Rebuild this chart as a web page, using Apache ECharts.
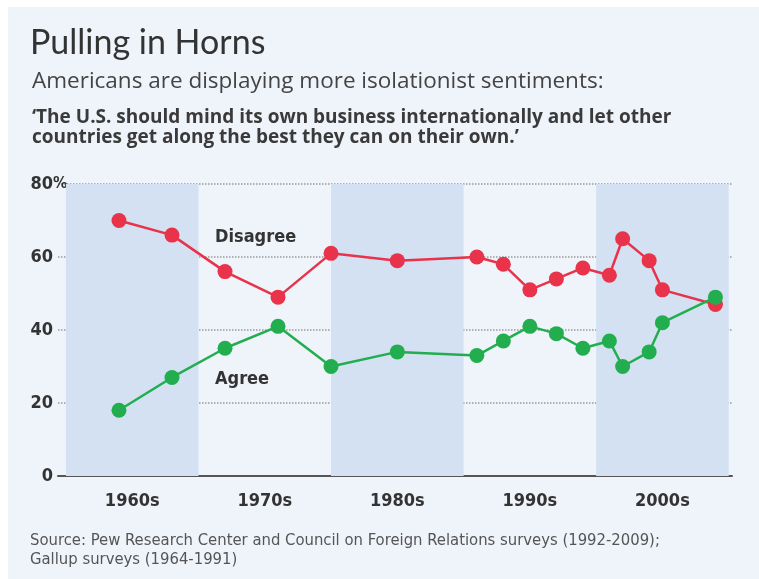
<!DOCTYPE html>
<html><head><meta charset="utf-8">
<script src="https://cdn.jsdelivr.net/npm/echarts@6/dist/echarts.min.js"></script>
<style>html,body{margin:0;padding:0;background:#fff}#c{width:759px;height:579px}</style>
</head><body><div id="c"></div>
<script>
const years = [1964,1968,1972,1976,1980,1985,1991,1993,1995,1997,1999,2001,2002,2004,2005,2009];
const disagree = [70,66,56,49,61,59,60,58,51,54,57,55,65,59,51,47];
const agree = [18,27,35,41,30,34,33,37,41,39,35,37,30,34,42,49];
const decadeTicks = [1965,1975,1985,1995,2005];
const decadeLabels = ['1960s','1970s','1980s','1990s','2000s'];
const shadedBands = [[1960,1970],[1980,1990],[2000,2010]];
const seriesNames = ['Disagree','Agree'];
const titleText = 'Pulling in Horns';
const subtitleText = 'Americans are displaying more isolationist sentiments:';
const quoteLines = ['\u2018The U.S. should mind its own business internationally and let other', 'countries get along the best they can on their own.\u2019'];
const sourceLines = ['Source: Pew Research Center and Council on Foreign Relations surveys (1992-2009);', 'Gallup surveys (1964-1991)'];

const RED = '#e8334a', GREEN = '#22ae4f';
const condensed = "'DejaVu Sans Condensed', 'Liberation Sans Narrow', sans-serif";
const chart = echarts.init(document.getElementById('c'), null, {renderer: 'canvas'});
const pair = (xs, ys) => xs.map((x, i) => [x, ys[i]]);

chart.setOption({
  backgroundColor: '#ffffff',
  animation: false,
  graphic: [
    {type: 'rect', z: -100, shape: {x: 8, y: 7, width: 751, height: 572}, style: {fill: '#eff3fa'}},
    {type: 'text', left: 30, top: 26, style: {text: titleText, font: '34px Lato', fill: '#333'}},
    {type: 'text', left: 32, top: 70, style: {text: subtitleText, font: "22.5px 'Open Sans'", fill: '#444'}},
    {type: 'text', left: 32, top: 108, style: {text: quoteLines.join('\n'), font: "bold 19px 'Open Sans'", lineHeight: 20, fill: '#3a3a3a'}},
    {type: 'text', left: 30, top: 531, style: {text: sourceLines.join('\n'), font: "16.5px 'Liberation Sans Narrow', 'DejaVu Sans Condensed', sans-serif", lineHeight: 19, fill: '#555'}},
    {type: 'text', left: 215, top: 228, style: {text: seriesNames[0], font: 'bold 18px ' + condensed, fill: '#333'}},
    {type: 'text', left: 215, top: 370, style: {text: seriesNames[1], font: 'bold 18px ' + condensed, fill: '#333'}}
  ],
  grid: {left: 58, right: 27, top: 184, bottom: 103, containLabel: false},
  xAxis: {
    type: 'value', min: 1959.4, max: 2010.25,
    axisLine: {show: true, lineStyle: {color: '#555', width: 2}},
    axisTick: {show: false},
    splitLine: {show: false},
    axisLabel: {
      customValues: decadeTicks,
      margin: 16,
      formatter: v => decadeLabels[decadeTicks.indexOf(v)] || '',
      color: '#333', fontSize: 18, fontWeight: 'bold', fontFamily: condensed
    }
  },
  yAxis: {
    type: 'value', min: 0, max: 80, interval: 20,
    axisLine: {show: false}, axisTick: {show: false},
    splitLine: {show: true, lineStyle: {color: '#9a9a9a', type: 'dotted', width: 1.5}},
    axisLabel: {
      margin: 5,
      formatter: v => v === 80 ? '{n|80}{p|%}' : '{n|' + v + '}',
      rich: {
        n: {align: 'left', color: '#333', fontSize: 18, fontWeight: 'bold', fontFamily: condensed},
        p: {align: 'left', width: 0, color: '#333', fontSize: 16, fontWeight: 'bold', fontFamily: condensed}
      }
    }
  },
  series: [
    {
      name: seriesNames[0], type: 'line', data: pair(years, disagree),
      symbol: 'circle', symbolSize: 15,
      lineStyle: {color: RED, width: 2.5}, itemStyle: {color: RED},
      markArea: {
        silent: true, itemStyle: {color: '#d3e1f3'},
        data: shadedBands.map(b => [{xAxis: b[0]}, {xAxis: b[1]}])
      },
      z: 3
    },
    {
      name: seriesNames[1], type: 'line', data: pair(years, agree),
      symbol: 'circle', symbolSize: 15,
      lineStyle: {color: GREEN, width: 2.5}, itemStyle: {color: GREEN},
      z: 4
    }
  ]
});
</script></body></html>
